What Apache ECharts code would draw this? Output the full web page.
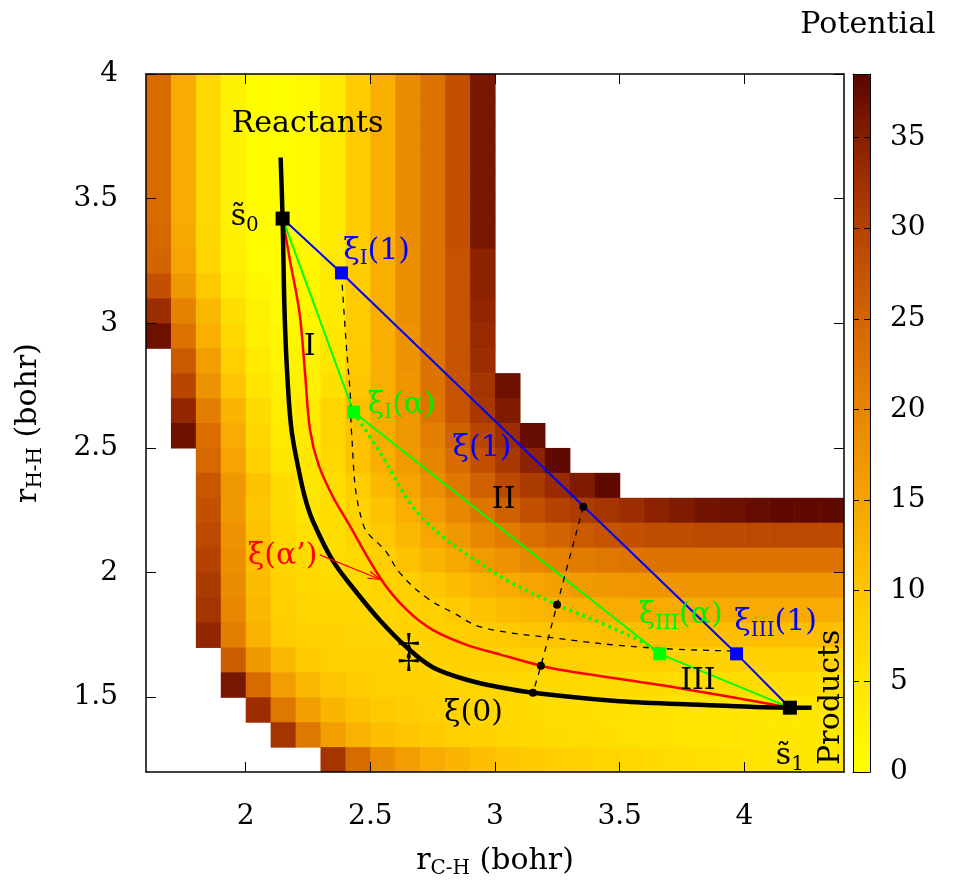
<!DOCTYPE html>
<html><head><meta charset="utf-8">
<script src="https://cdn.jsdelivr.net/npm/echarts@6/dist/echarts.min.js"></script>
<style>html,body{margin:0;padding:0;background:#fff}#chart{width:966px;height:882px}</style>
</head><body><div id="chart"></div>
<script>
const FONT = 'DejaVu Serif';
const _ = null; // white = above the colour range

// Potential surface, read cell by cell (cell centres, bohr)
const xCenters = [1.65,1.75,1.85,1.95,2.05,2.15,2.25,2.35,2.45,2.55,2.65,2.75,2.85,2.95,3.05,3.15,3.25,3.35,3.45,3.55,3.65,3.75,3.85,3.95,4.05,4.15,4.25,4.35];
const yCenters = [3.95,3.85,3.75,3.65,3.55,3.45,3.35,3.25,3.15,3.05,2.95,2.85,2.75,2.65,2.55,2.45,2.35,2.25,2.15,2.05,1.95,1.85,1.75,1.65,1.55,1.45,1.35,1.25];
const potentialRows = [
 [24,14,7,2.5,0.5,0.2,1.2,4,9,13.5,19,23,28,36,_,_,_,_,_,_,_,_,_,_,_,_,_,_],
 [24,14,7,2.5,0.5,0.2,1.2,4,9,13.5,19,23,28,36,_,_,_,_,_,_,_,_,_,_,_,_,_,_],
 [24,14,7,2.5,0.5,0.2,1.2,4,9,13.5,19,23,28,36,_,_,_,_,_,_,_,_,_,_,_,_,_,_],
 [24,14,7,2.5,0.5,0.2,1.2,4,9,13.5,19,23,28,36,_,_,_,_,_,_,_,_,_,_,_,_,_,_],
 [24,14,7,2.5,0.5,0.2,1.2,4,9,13.5,19,23,28,36,_,_,_,_,_,_,_,_,_,_,_,_,_,_],
 [24,14,7,2.5,0.5,0.2,1.2,4,9,13.5,19,23,28,36,_,_,_,_,_,_,_,_,_,_,_,_,_,_],
 [24.5,14.5,7.2,2.6,0.6,0.2,1.2,4,9,13.5,19,23,28,36,_,_,_,_,_,_,_,_,_,_,_,_,_,_],
 [25,15,7.5,3,0.8,0.3,1.5,4.2,9,13.5,18.5,23,27.5,34.5,_,_,_,_,_,_,_,_,_,_,_,_,_,_],
 [28,17,9.5,4,1.5,0.6,1.5,4.2,9,13.5,18.5,23,27.5,34.5,_,_,_,_,_,_,_,_,_,_,_,_,_,_],
 [33,20.5,12,6,2.5,1,1.8,4.3,9,13.5,18.5,23,27.5,34,_,_,_,_,_,_,_,_,_,_,_,_,_,_],
 [37,23,13.5,7,3,1.5,2,4.5,9,13.5,18,23,27.5,33.5,_,_,_,_,_,_,_,_,_,_,_,_,_,_],
 [_,26.5,16,8.5,4,2,2.5,5,9.5,13.5,18,23,27.5,33,_,_,_,_,_,_,_,_,_,_,_,_,_,_],
 [_,29.5,18,10,5,2.8,3,6,10,13.5,17.5,23,27.5,32,37,_,_,_,_,_,_,_,_,_,_,_,_,_],
 [_,34,21,12.5,6.5,3.5,4,7.5,11,14,17,22.5,27.5,31.5,35.5,_,_,_,_,_,_,_,_,_,_,_,_,_],
 [_,37,23.5,14,7.5,4,4,7.5,10.5,14,17,21,25.5,29.5,33,37.5,_,_,_,_,_,_,_,_,_,_,_,_],
 [_,_,24.5,15,8.5,4.5,4.5,7,10.5,13.5,16.5,20,24,28,31.5,34.5,38,_,_,_,_,_,_,_,_,_,_,_],
 [_,_,27,17,10.5,6.5,4.5,6,9,12,15,18.5,22,25.5,29,31,33.5,35.5,38,_,_,_,_,_,_,_,_,_],
 [_,_,28,17,10,6.5,5,6,8,10.5,13.5,16.5,19.5,22.5,25.5,28,30,31,32,33,34.5,35.5,36.5,37,37.5,38,38,38],
 [_,_,29,18,10.5,7,5.7,6,7.5,9.5,12,14.5,17,19.5,21.5,23.5,25,26.5,27.5,28,28.5,28.5,29,29,29,29,29,29],
 [_,_,30,18.5,11,7.5,6.5,6.2,7,8.5,10.5,12.5,14.5,16.5,18,19.5,20.5,21.5,22,22.5,23,23,23,23,23,23,23,23],
 [_,_,31,19,11.5,8,7,6.8,6.8,7.5,8.5,10,11.5,13,14,15,15.8,16.5,17,17.3,17.5,17.5,17.5,17.5,17.5,17.5,17.5,17.5],
 [_,_,32,19.5,12,8.5,7.5,7.2,7.2,7.3,7.8,8.5,9.5,10.5,11.5,12.2,12.8,13.3,13.6,14,14,14,14,14,14,14,14,14],
 [_,_,34,21,13,9,8,7.8,7.7,7.7,7.8,8,8.5,9,9.5,10,10.3,10.6,10.8,11,11,11,11,11,11,11,11,11],
 [_,_,_,26,17,12,9.5,8.5,8.2,8,8,7.9,7.9,8,8.2,8.4,8.5,8.5,8.5,8.4,8.3,8.2,8.1,8,8,8,8,8],
 [_,_,_,36,24,16,12,10,9,8.5,8.2,8,7.7,7.4,7.2,7,6.9,6.8,6.6,6.5,6.4,6.3,6.2,6.2,6.1,6.1,6,6],
 [_,_,_,_,33,22,16,12.5,10.5,9.5,8.8,8.3,7.8,7.4,7,6.6,6.3,6,5.8,5.6,5.4,5.2,5,4.9,4.8,4.7,4.6,4.5],
 [_,_,_,_,_,32,22,16,13,11,10,9.2,8.5,8,7.5,7,6.6,6.2,5.9,5.6,5.4,5.2,5,4.9,4.8,4.7,4.6,4.5],
 [_,_,_,_,_,_,_,32,24,19,16,14,12.5,11,10,9.2,8.5,8,7.5,7,6.6,6.2,5.8,5.5,5.2,5,4.8,4.6]
];

// Paths (bohr)
const xi0X = [2.140,2.148,2.156,2.168,2.184,2.215,2.238,2.268,2.348,2.445,2.537,2.646,2.750,2.886,3.019,3.152,3.500,3.820,4.183,4.270];
const xi0Y = [3.665,3.420,3.040,2.770,2.570,2.400,2.300,2.210,2.050,1.920,1.810,1.700,1.620,1.570,1.540,1.518,1.484,1.470,1.458,1.458];
const xiAlphaPX = [2.148,2.178,2.216,2.238,2.258,2.293,2.352,2.404,2.545,2.646,2.750,2.886,3.019,3.184,3.260,3.730,4.183];
const xiAlphaPY = [3.420,3.250,3.040,2.800,2.572,2.430,2.300,2.211,1.970,1.850,1.770,1.710,1.672,1.626,1.610,1.538,1.458];
const xiAlphaX = [2.148,2.433,3.661,4.183];
const xiAlphaY = [3.420,2.644,1.674,1.458];
const xiOneX = [2.148,2.384,3.969,4.183];
const xiOneY = [3.420,3.202,1.674,1.458];
const dottedX = [2.433,2.550,2.671,2.806,2.939,3.047,3.249,3.420,3.593,3.661];
const dottedY = [2.644,2.464,2.263,2.131,2.039,1.970,1.871,1.800,1.720,1.674];
const dashedX = [2.384,2.404,2.420,2.424,2.469,2.566,2.617,2.725,2.830,2.950,3.260,3.593,3.969];
const dashedY = [3.202,2.905,2.705,2.570,2.199,2.080,2.000,1.900,1.840,1.780,1.735,1.700,1.685];
const crossX = [3.354,3.249,3.184,3.152];
const crossY = [2.264,1.871,1.626,1.518];
const endX = [2.148,4.183];
const endY = [3.420,1.458];
const blueMarkX = [2.384,3.969];
const blueMarkY = [3.202,1.674];
const greenMarkX = [2.433,3.661];
const greenMarkY = [2.644,1.674];
const arrowSeg = [2.297, 2.071, 2.540, 1.972]; // tail x, tail y, head x, head y

const xTicks = [2,2.5,3,3.5,4];
const yTicks = [1.5,2,2.5,3,3.5,4];
const cbTicks = [0,5,10,15,20,25,30,35];
const cbMax = 38.5;

const pairs = (xs, ys) => xs.map((x, i) => [x, ys[i]]);
const cellData = [];
potentialRows.forEach((row, j) => row.forEach((v, i) => {
  if (v !== null) cellData.push([xCenters[i], yCenters[j], v]);
}));
const cellW = xCenters[1] - xCenters[0];
const cellH = yCenters[0] - yCenters[1];

const palette = ['#ffff00','#ffe600','#ffc800','#f7a800','#e98a00','#d86b00','#bd4a00','#962800','#5a0500'];

const rich = {
  m: { fontFamily: FONT, fontSize: 30, lineHeight: 36 },
  s: { fontFamily: FONT, fontSize: 20, lineHeight: 12, verticalAlign: 'bottom' },
  g: { fontFamily: 'Liberation Serif', fontSize: 46, lineHeight: 50 }
};

const annotations = [
  { text: '{m|Reactants}', at: [2.248, 3.80], color: '#000' },
  { text: '{m|s\u0303}{s|0}', at: [1.996, 3.425], color: '#000' },
  { text: '{m|\u03be}{s|I}{m|(1)}', at: [2.525, 3.29], color: '#0000ff' },
  { text: '{m|I}', at: [2.257, 2.905], color: '#000' },
  { text: '{m|\u03be}{s|I}{m|(\u03b1)}', at: [2.626, 2.672], color: '#00ee00' },
  { text: '{m|\u03be(1)}', at: [2.948, 2.50], color: '#0000ff' },
  { text: '{m|II}', at: [3.035, 2.291], color: '#000' },
  { text: '{m|\u03be(\u03b1\u2019)}', at: [2.148, 2.067], color: '#ff0000' },
  { text: '{m|\u03be}{s|III}{m|(\u03b1)}', at: [3.745, 1.827], color: '#00ee00' },
  { text: '{m|\u03be}{s|III}{m|(1)}', at: [4.126, 1.80], color: '#0000ff' },
  { text: '{m|III}', at: [3.814, 1.566], color: '#000' },
  { text: '{g|\u2021}', at: [2.654, 1.675], color: '#000' },
  { text: '{m|\u03be(0)}', at: [2.914, 1.434], color: '#000' },
  { text: '{m|s\u0303}{s|1}', at: [4.183, 1.262], color: '#000' },
  { text: '{m|Products}', at: [4.347, 1.50], color: '#000', rotate: 90 }
];

const black = '#000';
const mainX = (pos, labels) => ({
  gridIndex: 0, type: 'value', min: 1.6, max: 4.4, position: pos, z: 5,
  axisLine: { show: true, onZero: false, lineStyle: { color: black, width: 1.5 } },
  axisTick: { show: true, inside: true, length: 10, customValues: xTicks, lineStyle: { color: black, width: 1 } },
  axisLabel: labels ? { show: true, customValues: xTicks, margin: 31, color: black, fontSize: 28, fontFamily: FONT } : { show: false },
  splitLine: { show: false }
});
const mainY = (pos, labels) => ({
  gridIndex: 0, type: 'value', min: 1.2, max: 4, position: pos, z: 5,
  axisLine: { show: true, onZero: false, lineStyle: { color: black, width: 1.5 } },
  axisTick: { show: true, inside: true, length: 10, customValues: yTicks, lineStyle: { color: black, width: 1 } },
  axisLabel: labels ? { show: true, customValues: yTicks, margin: 28, color: black, fontSize: 28, fontFamily: FONT } : { show: false },
  splitLine: { show: false }
});
const cbX = (pos) => ({
  gridIndex: 1, type: 'value', min: 0, max: 1, position: pos, z: 5,
  axisLine: { show: true, onZero: false, lineStyle: { color: black, width: 1 } },
  axisTick: { show: false }, axisLabel: { show: false }, splitLine: { show: false }
});
const cbY = (pos, labels) => ({
  gridIndex: 1, type: 'value', min: 0, max: cbMax, position: pos, z: 5,
  axisLine: { show: true, onZero: false, lineStyle: { color: black, width: 1 } },
  axisTick: { show: true, inside: true, length: 6, customValues: cbTicks, lineStyle: { color: black, width: 1 } },
  axisLabel: labels ? { show: true, customValues: cbTicks, margin: 20, color: black, fontSize: 28, fontFamily: FONT } : { show: false },
  splitLine: { show: false }
});

const xMain = mainX('bottom', true);
xMain.name = '{m|r}{s|C-H}{m| (bohr)}';
xMain.nameLocation = 'middle';
xMain.nameGap = 71;
xMain.nameTextStyle = { color: black, rich };
const yMain = mainY('left', true);
yMain.name = '{m|r}{s|H-H}{m| (bohr)}';
yMain.nameLocation = 'middle';
yMain.nameRotate = 90;
yMain.nameGap = 100;
yMain.nameTextStyle = { color: black, rich };

const lineSeries = (xs, ys, color, width, type, smooth, z) => ({
  type: 'line', xAxisIndex: 0, yAxisIndex: 0, data: pairs(xs, ys), symbol: 'none',
  smooth: smooth, lineStyle: { color, width, type, opacity: 1 }, z: z || 3, silent: true
});
const markSeries = (xs, ys, color, symbol, size) => ({
  type: 'scatter', xAxisIndex: 0, yAxisIndex: 0, data: pairs(xs, ys), symbol, symbolSize: size,
  itemStyle: { color, opacity: 1 }, z: 6, silent: true
});

const chart = echarts.init(document.getElementById('chart'), null, { renderer: 'canvas' });
chart.setOption({
  animation: false,
  backgroundColor: '#fff',
  grid: [
    { left: 146, top: 74, width: 698, height: 698, outerBoundsMode: 'none', containLabel: false },
    { left: 853, top: 74, width: 17, height: 698, outerBoundsMode: 'none', containLabel: false }
  ],
  xAxis: [xMain, mainX('top', false), cbX('bottom'), cbX('top')],
  yAxis: [yMain, mainY('right', false), cbY('left', false), cbY('right', true)],
  visualMap: {
    type: 'continuous', min: 0, max: cbMax, dimension: 2, seriesIndex: 0,
    inRange: { color: palette }, calculable: false, realtime: false, hoverLink: false,
    orient: 'vertical', left: 853, top: 74, itemWidth: 17, itemHeight: 698, padding: 0,
    text: null, show: true
  },
  graphic: [{
    type: 'text', x: 868, y: 25,
    style: { text: 'Potential', fontFamily: FONT, fontSize: 30, fill: black, align: 'center', verticalAlign: 'middle' }
  }],
  series: [
    {
      type: 'custom', xAxisIndex: 0, yAxisIndex: 0, data: cellData, clip: true, z: 1, silent: true,
      renderItem: (params, api) => {
        const x = api.value(0), y = api.value(1);
        const p0 = api.coord([x - cellW / 2, y + cellH / 2]);
        const p1 = api.coord([x + cellW / 2, y - cellH / 2]);
        return { type: 'rect', shape: { x: p0[0], y: p0[1], width: p1[0] - p0[0] + 0.6, height: p1[1] - p0[1] + 0.6 },
                 style: { fill: api.visual('color') } };
      }
    },
    lineSeries(xiAlphaX, xiAlphaY, '#00ff00', 2, 'solid', false, 3),
    lineSeries(xiOneX, xiOneY, '#0000ff', 2, 'solid', false, 3),
    lineSeries(dottedX, dottedY, '#00ff00', 3.5, [3, 4], 0.35, 3),
    lineSeries(dashedX, dashedY, black, 1.3, [6, 6], 0.4, 3),
    lineSeries(crossX, crossY, black, 1.3, [6, 6], 0.3, 3),
    lineSeries(xiAlphaPX, xiAlphaPY, '#ff0000', 2.5, 'solid', 0.35, 4),
    lineSeries(xi0X, xi0Y, black, 4.5, 'solid', 0.35, 5),
    {
      type: 'custom', xAxisIndex: 0, yAxisIndex: 0, data: [arrowSeg], z: 9, silent: true,
      encode: { x: [0, 2], y: [1, 3] },
      renderItem: (params, api) => {
        const a = api.coord([api.value(0), api.value(1)]);
        const b = api.coord([api.value(2), api.value(3)]);
        const ang = Math.atan2(b[1] - a[1], b[0] - a[0]);
        const L = 13, w = 0.28;
        const h1 = [b[0] - L * Math.cos(ang - w), b[1] - L * Math.sin(ang - w)];
        const h2 = [b[0] - L * Math.cos(ang + w), b[1] - L * Math.sin(ang + w)];
        return { type: 'group', children: [
          { type: 'line', shape: { x1: a[0], y1: a[1], x2: b[0], y2: b[1] }, style: { stroke: '#ff0000', lineWidth: 1.2 } },
          { type: 'polyline', shape: { points: [h1, b, h2] }, style: { stroke: '#ff0000', lineWidth: 1.2, fill: null } }
        ] };
      }
    },
    markSeries(crossX, crossY, black, 'circle', 8),
    markSeries(blueMarkX, blueMarkY, '#0000ff', 'rect', 13),
    markSeries(greenMarkX, greenMarkY, '#00ff00', 'rect', 13),
    markSeries(endX, endY, black, 'rect', 14),
    {
      type: 'scatter', xAxisIndex: 0, yAxisIndex: 0, symbolSize: 0, z: 10, silent: true,
      itemStyle: { opacity: 1 },
      data: annotations.map(a => ({
        value: a.at,
        itemStyle: { opacity: 1 },
        label: { show: true, position: 'inside', formatter: a.text, color: a.color, opacity: 1, rotate: a.rotate || 0,
                 align: 'center', verticalAlign: 'middle', rich }
      })),
      label: { show: true, opacity: 1, rich }
    }
  ]
});
</script></body></html>
